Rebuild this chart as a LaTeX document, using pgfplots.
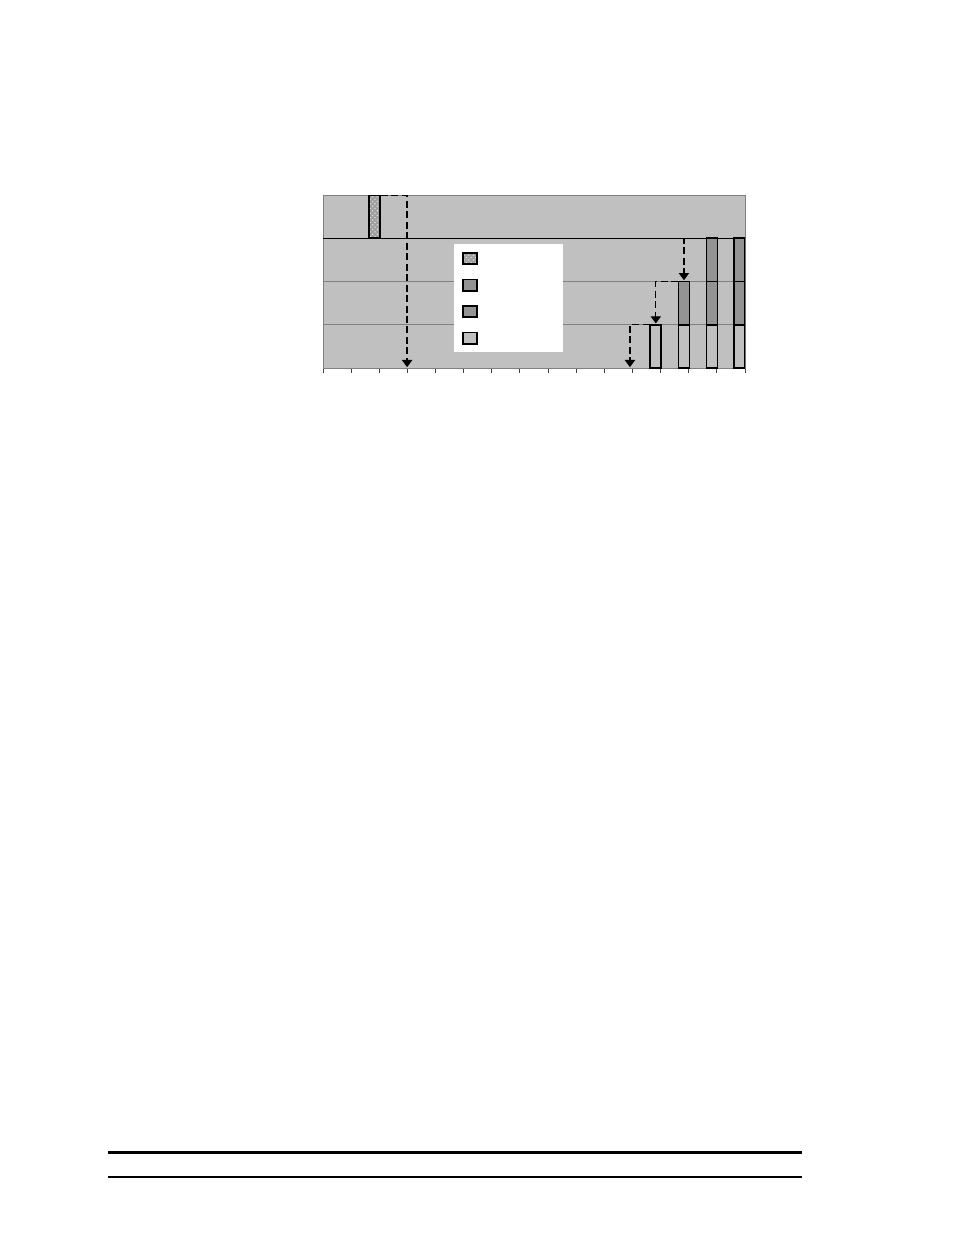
\documentclass[border=0pt]{standalone}
\usepackage{pgfplots}
\pgfplotsset{compat=1.18}
\usetikzlibrary{patterns,arrows.meta}

\definecolor{bggray}{HTML}{C0C0C0}
\definecolor{bordergray}{HTML}{808080}
\definecolor{darkbar}{HTML}{939393}
\definecolor{lightbar}{HTML}{C0C0C0}

\newcommand{\blankentry}{\phantom{\rule[-8.5pt]{49.5pt}{17pt}}}

\pgfplotsset{
  boxlegend/.style={legend image code/.code={\draw[##1] (0pt,-3.6pt) rectangle (9pt,3.6pt);}},
  arrowline/.style={black, line width=0.8pt, dash pattern=on 4.5pt off 2.2pt,
    -{Triangle[width=6.6pt,length=4.6pt]}},
}

\begin{document}
\begin{tikzpicture}
% page (954 x 1235 px at 0.64pt/px)
\path[use as bounding box, fill=white] (0,0) rectangle (610.56pt,-790.4pt);

\begin{axis}[
    at={(206.72pt,-235.52pt)}, anchor=south west,
    scale only axis,
    width=270.08pt, height=110.72pt,
    xmin=0, xmax=15, ymin=0, ymax=4,
    axis background/.style={fill=bggray},
    axis line style={draw=bordergray, line width=0.6pt},
    xtick={0,...,15}, xticklabels={},
    xtick pos=bottom, tick align=outside,
    x tick style={black!75, line width=0.6pt},
    major tick length=3.3pt,
    ytick={1,2}, yticklabels={},
    y tick style={draw=none},
    ymajorgrids,
    grid style={bordergray, line width=0.5pt},
    extra y ticks={3}, extra y tick labels={},
    extra y tick style={grid style={black, line width=0.8pt}},
    ybar stacked, bar width=0.39,
    reverse legend,
    legend style={at={(0.3104,0.7168)}, anchor=north west,
      draw=none, fill=white, inner xsep=4.9pt, inner ysep=0.6pt,
      column sep=0pt, nodes={inner sep=0pt, minimum height=17pt}},
]
% invisible base for the upper bar
\addplot[draw=none, fill=none, forget plot] coordinates {
  (1.83,3) (11.83,0) (12.83,0) (13.83,0) (14.8,0)};
\addplot[boxlegend, draw=black, line width=1.1pt, fill=lightbar] coordinates {
  (1.83,0) (11.83,1) (12.83,1) (13.83,1) (14.8,1)};
\addlegendentry{\blankentry}
\addplot[boxlegend, draw=black, line width=1.1pt, fill=darkbar] coordinates {
  (1.83,0) (11.83,0) (12.83,1) (13.83,1) (14.8,1)};
\addlegendentry{\blankentry}
\addplot[boxlegend, draw=black, line width=1.1pt, fill=darkbar] coordinates {
  (1.83,0) (11.83,0) (12.83,0) (13.83,1) (14.8,1)};
\addlegendentry{\blankentry}
\addplot[boxlegend, draw=black, line width=1.1pt, fill=gray!75,
  postaction={pattern=crosshatch dots, pattern color=gray!25}] coordinates {
  (1.83,1) (11.83,0) (12.83,0) (13.83,0) (14.8,0)};
\addlegendentry{\blankentry}
\end{axis}

% dashed arrows, same frame
\begin{axis}[
    at={(206.72pt,-235.52pt)}, anchor=south west,
    scale only axis,
    width=270.08pt, height=110.72pt,
    xmin=0, xmax=15, ymin=0, ymax=4,
    axis lines=none, clip=false,
]
\addplot[arrowline] coordinates {(2.05,3.98) (2.99,3.98) (2.99,0.02)};
\addplot[arrowline] coordinates {(11.62,1) (10.91,1) (10.91,0.02)};
\addplot[arrowline] coordinates {(12.62,2) (11.83,2) (11.83,1.03)};
\addplot[arrowline] coordinates {(13.62,3) (12.83,3) (12.83,2.03)};
\end{axis}

% rules at the foot of the page
\draw[line width=1.92pt] (69.12pt,-737.9pt) -- (513.28pt,-737.9pt);
\draw[line width=1.3pt] (69.12pt,-753.3pt) -- (513.28pt,-753.3pt);
\end{tikzpicture}
\end{document}
